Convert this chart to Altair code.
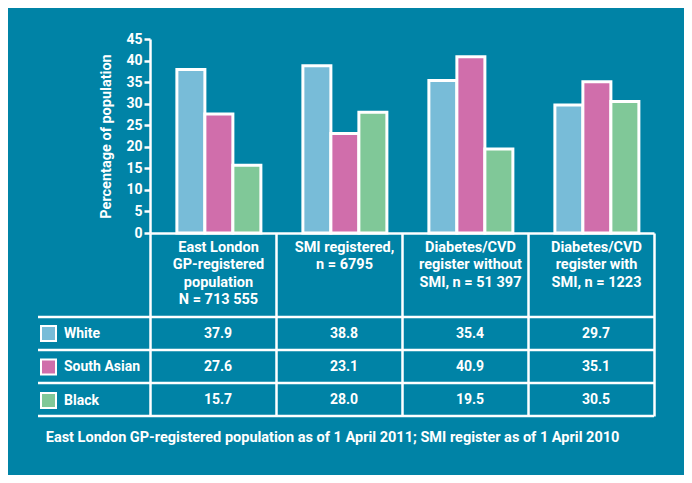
import altair as alt
import pandas as pd

FONT = "Roboto"
BG = "#0083a6"

categories = [
    "East London|GP-registered|population|N = 713 555",
    "SMI registered,|n = 6795",
    "Diabetes/CVD|register without|SMI, n = 51 397",
    "Diabetes/CVD|register with|SMI, n = 1223",
]
races = ["White", "South Asian", "Black"]
white = [37.9, 38.8, 35.4, 29.7]
south_asian = [27.6, 23.1, 40.9, 35.1]
black = [15.7, 28.0, 19.5, 30.5]
colors = ["#78bcd8", "#d06eab", "#80c898"]
y_ticks = [0, 5, 10, 15, 20, 25, 30, 35, 40, 45]
footer = "East London GP-registered population as of 1 April 2011; SMI register as of 1 April 2010"

series = {"White": white, "South Asian": south_asian, "Black": black}
rows = []
for race in races:
    for cat, v in zip(categories, series[race]):
        rows.append({"category": cat, "race": race, "value": v,
                     "row": races.index(race) + 0.5, "label": f"{v:.1f}"})
df = pd.DataFrame(rows)
bounds_df = pd.DataFrame({"b": [0, 1, 2, 3]})

W, H = 504, 194
row_scale = alt.Scale(domain=[0, 3], range=[278, 377])

bars = alt.Chart(df).mark_bar(stroke="white", strokeWidth=3).encode(
    x=alt.X("category:N", sort=categories,
            scale=alt.Scale(paddingInner=0, paddingOuter=0),
            axis=alt.Axis(title=None, labelExpr="split(datum.label, '|')", labelAngle=0,
                          labelColor="white", labelFont=FONT, labelFontSize=14.5,
                          labelFontWeight="bold", labelLineHeight=17.5,
                          labelPadding=-176, labelBaseline="top", labelLimit=0,
                          labelOffset=5, tickBand="extent", tickSize=183, tickWidth=2.5,
                          tickColor="white", domainColor="white", domainWidth=2.5,
                          grid=False)),
    xOffset=alt.XOffset("race:N", sort=races,
                        scale=alt.Scale(paddingInner=0, paddingOuter=0.75, align=0.64)),
    y=alt.Y("value:Q", scale=alt.Scale(domain=[0, 45], nice=False),
            axis=alt.Axis(values=y_ticks, title="Percentage of population",
                          titleColor="white", titleFont=FONT, titleFontSize=14.5,
                          titleFontWeight="bold", titlePadding=12,
                          labelColor="white", labelFont=FONT, labelFontSize=14,
                          labelFontWeight="bold", labelPadding=2,
                          tickColor="white", tickSize=6, tickWidth=2.5,
                          domainColor="white", domainWidth=2.5, grid=False)),
    color=alt.Color("race:N", sort=races,
                    scale=alt.Scale(domain=races, range=colors),
                    legend=alt.Legend(title=None, orient="none", legendX=-110, legendY=286,
                                      direction="vertical", symbolType="square",
                                      symbolSize=225, symbolStrokeColor="white",
                                      symbolStrokeWidth=2, symbolOpacity=1,
                                      labelColor="white", labelFont=FONT, labelFontSize=14,
                                      labelFontWeight="bold", labelBaseline="middle",
                                      rowPadding=10.5, labelOffset=7, padding=0)),
)

text = alt.Chart(df).mark_text(color="white", font=FONT, fontSize=14,
                               fontWeight="bold", dx=5).encode(
    x=alt.X("category:N", sort=categories),
    y=alt.Y("row:Q", scale=row_scale, axis=None),
    text="label:N",
)

rules = alt.Chart(bounds_df).mark_rule(color="white", strokeWidth=2.5).encode(
    y=alt.Y("b:Q", scale=row_scale, axis=None),
    x=alt.value(-112),
    x2=alt.value(W),
)

chart = alt.layer(bars, text, rules).resolve_scale(y="independent").properties(
    width=W, height=H,
    autosize=alt.AutoSizeParams(type="none"),
    padding={"left": 142, "top": 31, "right": 30, "bottom": 242},
    title=alt.TitleParams(footer, orient="bottom", anchor="start", frame="bounds",
                          color="white", font=FONT, fontSize=14.5, fontWeight="bold",
                          offset=14, dx=9),
).configure(background=BG).configure_view(stroke=None)

chart.save("out.html", embed_options={"renderer": "svg", "actions": False})
